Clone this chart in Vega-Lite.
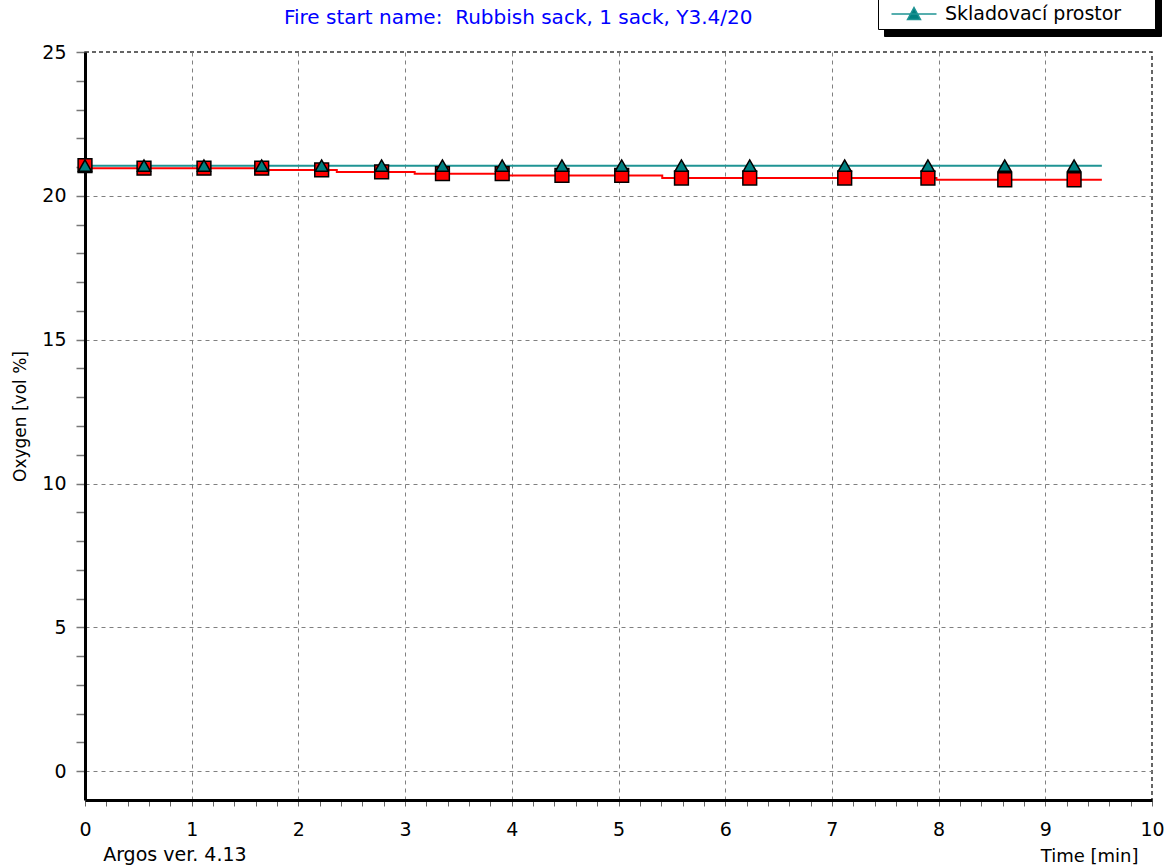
{
  "$schema": "https://vega.github.io/schema/vega-lite/v6.json",
  "width": 1067,
  "height": 748,
  "autosize": {"type": "none"},
  "padding": {"left": 85, "top": 52, "right": 18, "bottom": 65},
  "background": "white",
  "config": {
    "font": "DejaVu Sans",
    "view": {"stroke": "#333333", "strokeDash": [4, 3], "strokeWidth": 1.5}
  },
  "resolve": {"axis": {"x": "independent", "y": "independent"}},
  "datasets": {
    "lines": [
      {"t": 0, "o2": 21.05, "series": "Místnost s požárem"},
      {"t": 0.05, "o2": 20.96, "series": "Místnost s požárem"},
      {"t": 1.7, "o2": 20.9, "series": "Místnost s požárem"},
      {"t": 2.36, "o2": 20.83, "series": "Místnost s požárem"},
      {"t": 3.09, "o2": 20.77, "series": "Místnost s požárem"},
      {"t": 3.95, "o2": 20.71, "series": "Místnost s požárem"},
      {"t": 5.41, "o2": 20.62, "series": "Místnost s požárem"},
      {"t": 7.98, "o2": 20.56, "series": "Místnost s požárem"},
      {"t": 9.53, "o2": 20.56, "series": "Místnost s požárem"},
      {"t": 0, "o2": 21.05, "series": "Skladovací prostor"},
      {"t": 9.53, "o2": 21.05, "series": "Skladovací prostor"}
    ],
    "markers": [
      {"t": 0, "o2": 21.05, "series": "Místnost s požárem"},
      {"t": 0.553, "o2": 20.96, "series": "Místnost s požárem"},
      {"t": 1.115, "o2": 20.96, "series": "Místnost s požárem"},
      {"t": 1.656, "o2": 20.96, "series": "Místnost s požárem"},
      {"t": 2.218, "o2": 20.9, "series": "Místnost s požárem"},
      {"t": 2.78, "o2": 20.83, "series": "Místnost s požárem"},
      {"t": 3.35, "o2": 20.77, "series": "Místnost s požárem"},
      {"t": 3.91, "o2": 20.77, "series": "Místnost s požárem"},
      {"t": 4.47, "o2": 20.71, "series": "Místnost s požárem"},
      {"t": 5.03, "o2": 20.71, "series": "Místnost s požárem"},
      {"t": 5.59, "o2": 20.62, "series": "Místnost s požárem"},
      {"t": 6.23, "o2": 20.62, "series": "Místnost s požárem"},
      {"t": 7.12, "o2": 20.62, "series": "Místnost s požárem"},
      {"t": 7.9, "o2": 20.62, "series": "Místnost s požárem"},
      {"t": 8.62, "o2": 20.56, "series": "Místnost s požárem"},
      {"t": 9.27, "o2": 20.56, "series": "Místnost s požárem"},
      {"t": 0, "o2": 21.05, "series": "Skladovací prostor"},
      {"t": 0.553, "o2": 21.05, "series": "Skladovací prostor"},
      {"t": 1.115, "o2": 21.05, "series": "Skladovací prostor"},
      {"t": 1.656, "o2": 21.05, "series": "Skladovací prostor"},
      {"t": 2.218, "o2": 21.05, "series": "Skladovací prostor"},
      {"t": 2.78, "o2": 21.05, "series": "Skladovací prostor"},
      {"t": 3.35, "o2": 21.05, "series": "Skladovací prostor"},
      {"t": 3.91, "o2": 21.05, "series": "Skladovací prostor"},
      {"t": 4.47, "o2": 21.05, "series": "Skladovací prostor"},
      {"t": 5.03, "o2": 21.05, "series": "Skladovací prostor"},
      {"t": 5.59, "o2": 21.05, "series": "Skladovací prostor"},
      {"t": 6.23, "o2": 21.05, "series": "Skladovací prostor"},
      {"t": 7.12, "o2": 21.05, "series": "Skladovací prostor"},
      {"t": 7.9, "o2": 21.05, "series": "Skladovací prostor"},
      {"t": 8.62, "o2": 21.05, "series": "Skladovací prostor"},
      {"t": 9.27, "o2": 21.05, "series": "Skladovací prostor"}
    ]
  },
  "layer": [
    {
      "data": {"name": "lines"},
      "mark": {"type": "line", "interpolate": "step-after", "strokeWidth": 2},
      "encoding": {
        "x": {
          "field": "t", "type": "quantitative",
          "scale": {"domain": [0, 10], "nice": false, "zero": false},
          "axis": {
            "orient": "bottom",
            "title": "Time [min]",
            "values": [0, 0.2, 0.4, 0.6, 0.8, 1, 1.2, 1.4, 1.6, 1.8, 2, 2.2, 2.4, 2.6, 2.8, 3, 3.2, 3.4, 3.6, 3.8, 4, 4.2, 4.4, 4.6, 4.8, 5, 5.2, 5.4, 5.6, 5.8, 6, 6.2, 6.4, 6.6, 6.8, 7, 7.2, 7.4, 7.6, 7.8, 8, 8.2, 8.4, 8.6, 8.8, 9, 9.2, 9.4, 9.6, 9.8, 10],
            "labelExpr": "abs(datum.value - round(datum.value)) < 0.001 ? format(round(datum.value), 'd') : ''",
            "labelOverlap": false, "labelFlush": false, "labelBound": false,
            "labelFont": "DejaVu Sans", "labelFontSize": 19, "labelColor": "black", "labelPadding": 14,
            "tickSize": 6, "tickColor": "#666666", "tickWidth": 1,
            "domainColor": "black", "domainWidth": 3,
            "grid": true, "gridColor": "#808080", "gridDash": [4, 4], "gridWidth": 1,
            "gridOpacity": {"condition": {"test": "abs(datum.value - round(datum.value)) < 0.001 && datum.value > 0.5 && datum.value < 9.5", "value": 1}, "value": 0},
            "titleFont": "DejaVu Sans", "titleFontSize": 18, "titleFontWeight": "normal", "titleColor": "black",
            "titleX": 1053, "titleY": 61, "titleAlign": "right", "titleBaseline": "alphabetic"
          }
        },
        "y": {
          "field": "o2", "type": "quantitative",
          "scale": {"domain": [-1, 25], "nice": false, "zero": false},
          "axis": {
            "orient": "left",
            "title": "Oxygen [vol %]",
            "values": [0, 1, 2, 3, 4, 5, 6, 7, 8, 9, 10, 11, 12, 13, 14, 15, 16, 17, 18, 19, 20, 21, 22, 23, 24, 25],
            "labelExpr": "datum.value % 5 === 0 ? format(datum.value, 'd') : ''",
            "labelOverlap": false, "labelFlush": false, "labelBound": false,
            "labelFont": "DejaVu Sans", "labelFontSize": 19, "labelColor": "black", "labelPadding": 10,
            "tickSize": 9, "tickColor": "#777777", "tickWidth": 1.5,
            "domainColor": "black", "domainWidth": 3,
            "grid": true, "gridColor": "#808080", "gridDash": [4, 4], "gridWidth": 1,
            "gridOpacity": {"condition": {"test": "datum.value % 5 === 0 && datum.value < 24", "value": 1}, "value": 0},
            "titleFont": "DejaVu Sans", "titleFontSize": 17, "titleFontWeight": "normal", "titleColor": "black",
            "titlePadding": 12, "titleY": 364
          }
        },
        "stroke": {
          "field": "series", "type": "nominal",
          "scale": {"domain": ["Místnost s požárem", "Skladovací prostor"], "range": ["#ff0000", "#1f9494"]},
          "legend": {
            "orient": "none", "legendX": 793, "legendY": -81, "direction": "vertical",
            "title": " ", "titleOrient": "right", "titlePadding": 20, "titleFontSize": 10,
            "symbolType": "M-2.25,0H2.25M-0.65,0.55L0,-0.65L0.65,0.55Z",
            "symbolSize": 400, "symbolStrokeWidth": 1.5, "symbolFillColor": "#008080",
            "symbolOffset": 20, "labelOffset": 20,
            "labelFont": "DejaVu Sans", "labelFontSize": 19, "labelColor": "black", "labelLimit": 400,
            "fillColor": "white", "strokeColor": "black", "padding": 5, "rowPadding": 6,
            "zindex": 2
          }
        },
        "strokeDash": {
          "field": "series", "type": "nominal",
          "scale": {"domain": ["Skladovací prostor", "Místnost s požárem"], "range": [[1, 0], [1, 0]]},
          "legend": {
            "orient": "none", "legendX": 799, "legendY": -82, "direction": "vertical",
            "title": " ", "titleOrient": "right", "titlePadding": 20, "titleFontSize": 10, "titleColor": "black",
            "symbolType": "square", "symbolSize": 400, "symbolFillColor": "black", "symbolStrokeColor": "black",
            "symbolOffset": 20, "labelOffset": 20,
            "labelFont": "DejaVu Sans", "labelFontSize": 19, "labelColor": "black", "labelLimit": 400,
            "fillColor": "black", "strokeColor": "black", "padding": 5, "rowPadding": 6,
            "zindex": 1
          }
        }
      }
    },
    {
      "data": {"name": "markers"},
      "transform": [{"filter": "datum.series === 'Místnost s požárem'"}],
      "mark": {"type": "point", "shape": "square", "filled": true, "fill": "#ff0000", "stroke": "black", "strokeWidth": 1.5, "size": 190, "opacity": 1},
      "encoding": {
        "x": {"field": "t", "type": "quantitative", "scale": {"domain": [0, 10], "nice": false, "zero": false}, "axis": null},
        "y": {"field": "o2", "type": "quantitative", "scale": {"domain": [-1, 25], "nice": false, "zero": false}, "axis": null}
      }
    },
    {
      "data": {"name": "markers"},
      "transform": [{"filter": "datum.series === 'Skladovací prostor'"}],
      "mark": {"type": "point", "shape": "triangle-up", "filled": true, "fill": "#008080", "stroke": "black", "strokeWidth": 1.5, "size": 170, "opacity": 1},
      "encoding": {
        "x": {"field": "t", "type": "quantitative", "scale": {"domain": [0, 10], "nice": false, "zero": false}, "axis": null},
        "y": {"field": "o2", "type": "quantitative", "scale": {"domain": [-1, 25], "nice": false, "zero": false}, "axis": null}
      }
    },
    {
      "data": {"values": [{"label": "Fire start name:\u00a0 Rubbish sack, 1 sack, Y3.4/20"}]},
      "mark": {"type": "text", "color": "#0000ff", "fontSize": 20, "font": "DejaVu Sans", "align": "center", "baseline": "alphabetic", "clip": false},
      "encoding": {
        "text": {"field": "label", "type": "nominal"},
        "x": {"datum": 4.06, "type": "quantitative", "scale": {"domain": [0, 10], "nice": false, "zero": false}, "axis": null},
        "y": {"datum": 25.97, "type": "quantitative", "scale": {"domain": [-1, 25], "nice": false, "zero": false}, "axis": null}
      }
    },
    {
      "data": {"values": [{"label": "Argos ver. 4.13"}]},
      "mark": {"type": "text", "color": "black", "fontSize": 19, "font": "DejaVu Sans", "align": "left", "baseline": "alphabetic", "clip": false},
      "encoding": {
        "text": {"field": "label", "type": "nominal"},
        "x": {"datum": 0.17, "type": "quantitative", "scale": {"domain": [0, 10], "nice": false, "zero": false}, "axis": null},
        "y": {"datum": -3.12, "type": "quantitative", "scale": {"domain": [-1, 25], "nice": false, "zero": false}, "axis": null}
      }
    }
  ]
}
